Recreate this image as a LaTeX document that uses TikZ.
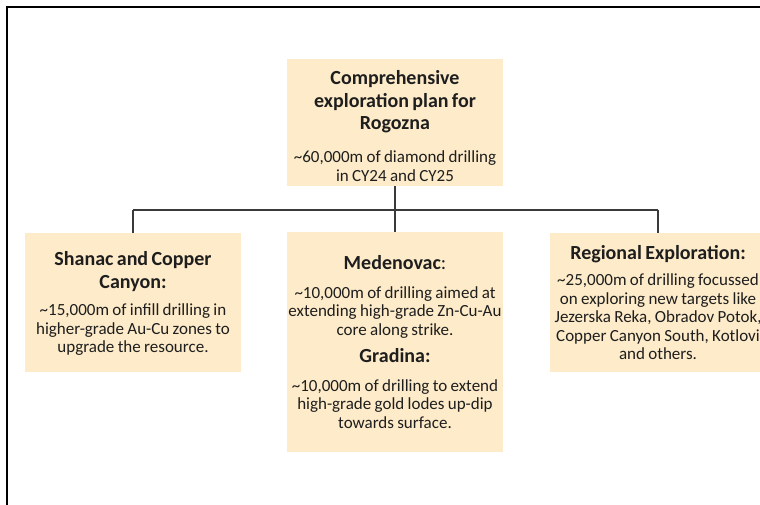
\documentclass[tikz,border=0pt]{standalone}
\usepackage{fontspec}
\setmainfont{Carlito}
\setlength{\parskip}{0pt}
\definecolor{boxfill}{HTML}{FDEBC9}
\definecolor{linegray}{HTML}{3A3A3A}
\definecolor{txt}{HTML}{1E1E1E}
\newcommand{\bxtitle}[1]{{\fontsize{20}{22.5}\selectfont\bfseries #1\par}}
\newcommand{\bxbody}[1]{{\fontsize{17}{18.5}\selectfont #1\par}}
\begin{document}
\begin{tikzpicture}[x=1pt,y=-1pt,
  planbox/.style={fill=boxfill, draw=none, minimum width=216pt, text width=216pt,
    inner xsep=0pt, inner ysep=0pt, align=center, text=txt},
  conn/.style={draw=linegray, line width=1.2pt}]
\useasboundingbox (0,0) rectangle (760,504);
\clip (0,0) rectangle (760,504);
\fill[white] (0,0) rectangle (760,504);
\draw[line width=1.6pt, black] (7,7) rectangle (900,700);

\node[planbox, minimum height=127pt] (top) at (395,122.5)
  {\bxtitle{\rule{0pt}{21.5pt}Comprehensive\\ exploration plan for\\ Rogozna}\vspace{14.5pt}%
   \bxbody{\textasciitilde 60,000m of diamond drilling\\ in CY24 and CY25}};

\node[planbox, minimum height=139pt] (left) at (133,302.5)
  {\bxtitle{\rule{0pt}{16.5pt}Shanac and Copper\\ Canyon:}\vspace{9pt}%
   \bxbody{\textasciitilde 15,000m of infill drilling in\\ higher-grade Au-Cu zones to\\ upgrade the resource.}};

\node[planbox, minimum height=220pt] (mid) at (395,342)
  {\bxtitle{Medenovac{\mdseries :}}\vspace{10pt}%
   \bxbody{\textasciitilde 10,000m of drilling aimed at\\ extending high-grade Zn-Cu-Au\\ core along strike.}\vspace{4.5pt}%
   \bxtitle{Gradina:}\vspace{10.5pt}%
   \bxbody{\textasciitilde 10,000m of drilling to extend\\ high-grade gold lodes up-dip\\ towards surface.}};

\node[planbox, minimum height=139pt] (right) at (658,302.5)
  {\bxtitle{Regional Exploration:}\vspace{8pt}%
   \bxbody{\textasciitilde 25,000m of drilling focussed\\ on exploring new targets like\\ Jezerska Reka, Obradov Potok,\\ Copper Canyon South, Kotlovi\\ and others.}};

\coordinate (busL) at (133,210);
\coordinate (busR) at (658,210);
\draw[conn] (top.south) -- (mid.north);
\draw[conn] (busL) -- (busR);
\draw[conn] (busL) -- (left.north);
\draw[conn] (busR) -- (right.north);
\end{tikzpicture}
\end{document}
